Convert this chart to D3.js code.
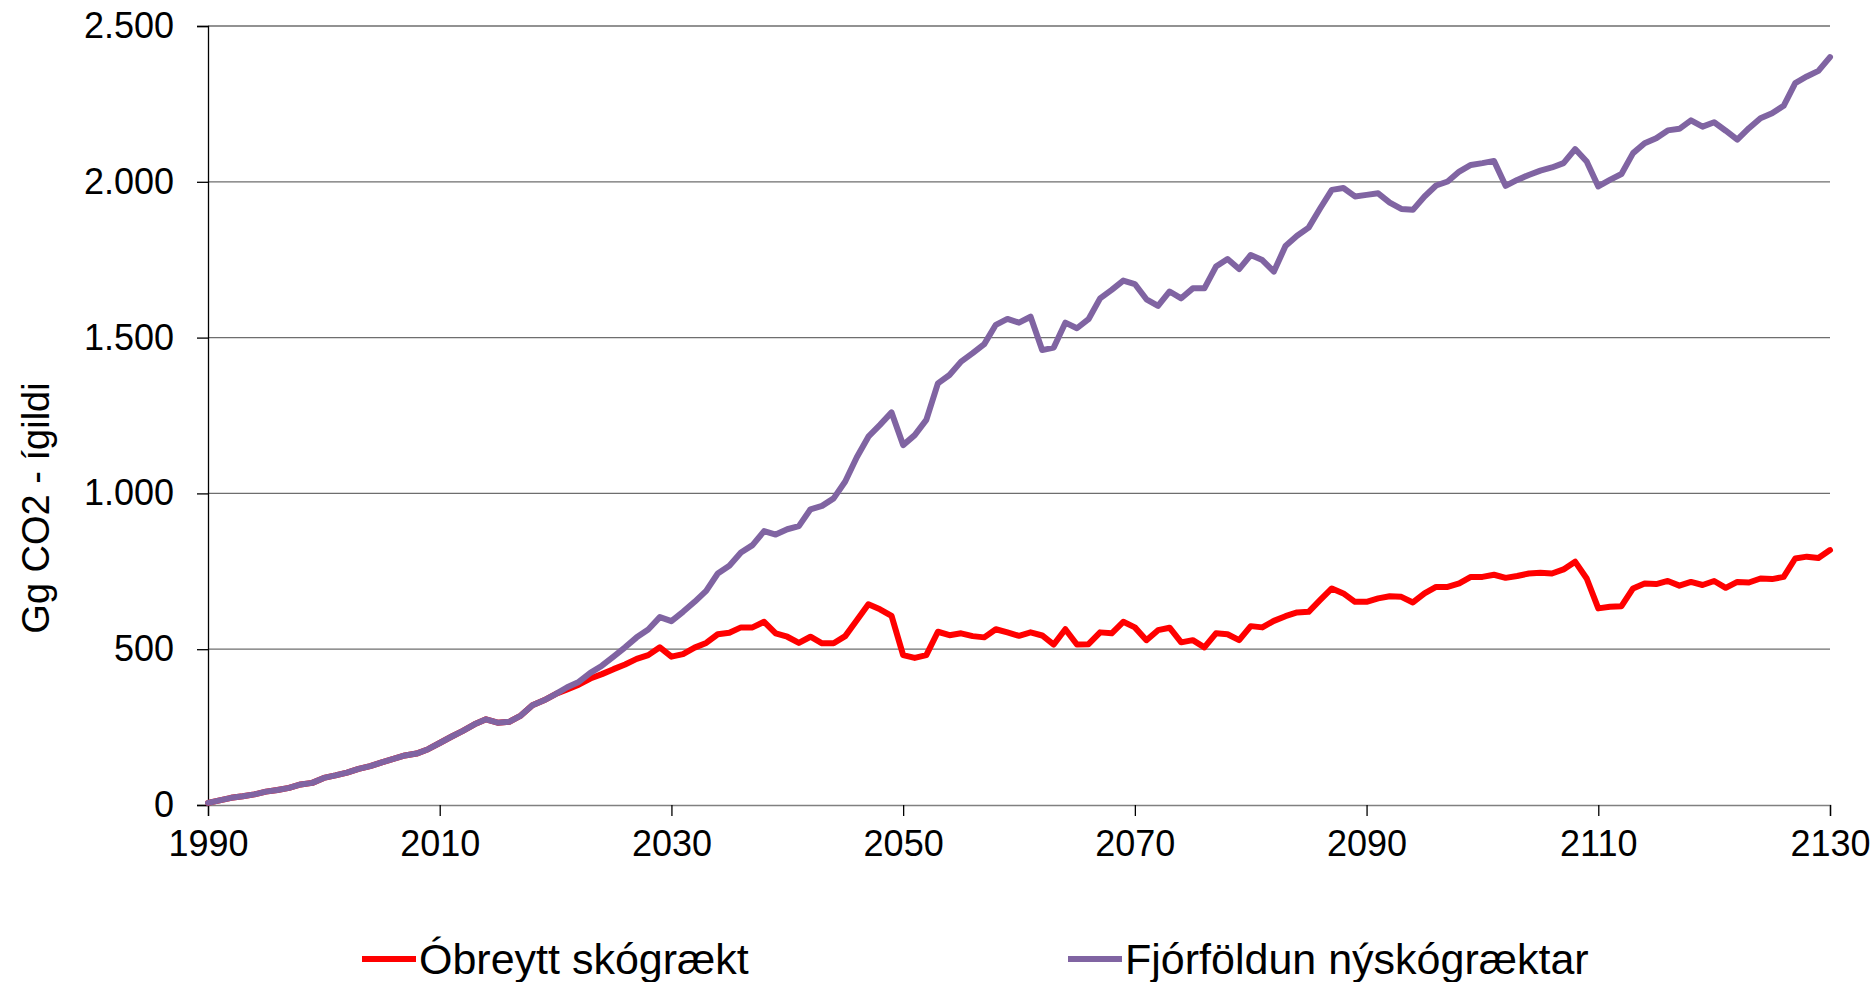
<!DOCTYPE html>
<html>
<head>
<meta charset="utf-8">
<script src="https://cdn.jsdelivr.net/npm/d3@7"></script>
<style>
  body { margin: 0; background: #fff; }
  svg { font-family: "Liberation Sans", Arial, sans-serif; }
</style>
</head>
<body>
<div id="chart"></div>
<script>
// years 1990..2130, one value per year
const firstYear = 1990, lastYear = 2130;

// both scenarios are the same up to 2020
const common = [7, 15, 23, 28, 34, 43, 48, 55, 66, 71, 87, 95, 104, 116, 125, 137, 148, 159, 165, 179,
  199, 219, 238, 259, 275, 264, 267, 287, 320, 336, 356];

const obreytt = common.concat([
  371, 386, 406, 420, 436, 451, 469, 481, 506, 476, 484, 505, 520, 548, 553, 570, 570, 588, 551, 540,
  520, 540, 519, 519, 542, 593, 644, 628, 607,
  481, 472, 481, 556, 545, 551, 542, 538, 564, 554, 543, 554, 544, 515, 564, 515, 516, 554, 551, 588,
  570, 529, 561, 569, 522, 529, 506, 551, 548, 529,
  574, 570, 591, 606, 618, 620, 658, 695, 679, 652, 652, 663, 670, 668, 650, 679, 700, 700, 711, 732,
  732, 739, 729, 735, 743, 745, 743, 756, 781,
  727, 631, 636, 638, 695, 711, 709, 719, 704, 716, 706, 719, 697, 716, 714, 727, 725, 732, 791, 797,
  793, 818]);

const fjorfoldun = common.concat([
  378, 395, 424, 447, 476, 506, 538, 563, 603, 590, 620, 652, 687, 743, 768, 810, 834, 879, 868, 885,
  895, 949, 960, 984, 1038, 1116, 1182, 1220, 1260,
  1155, 1187, 1236, 1353, 1380, 1423, 1450, 1479, 1541, 1560, 1548, 1567, 1460, 1468, 1548, 1530, 1559, 1626, 1653, 1683,
  1672, 1623, 1602, 1648, 1626, 1658, 1658, 1728, 1752, 1720,
  1765, 1749, 1712, 1794, 1827, 1853, 1915, 1974, 1980, 1953, 1958, 1963, 1933, 1913, 1910, 1953, 1988, 2001, 2033, 2054,
  2060, 2067, 1987, 2006, 2022, 2036, 2046, 2060, 2105,
  2065, 1985, 2006, 2025, 2092, 2124, 2140, 2165, 2170, 2197, 2177, 2191, 2164, 2135, 2172, 2204, 2220, 2244, 2317, 2338,
  2356, 2400]);

const seriesNames = ['Óbreytt skógrækt', 'Fjórföldun nýskógræktar'];
const seriesColors = ['#ff0000', '#8064a2'];
const xTicks = [1990, 2010, 2030, 2050, 2070, 2090, 2110, 2130];
const yTicks = [0, 500, 1000, 1500, 2000, 2500];
const yTitle = 'Gg CO2 - ígildi';

const width = 1875, height = 982,
  margin = {top: 26, right: 45, bottom: 177, left: 208};

const years = d3.range(firstYear, lastYear + 1);

const x = d3.scaleLinear()
  .domain([firstYear, lastYear])
  .range([margin.left, width - margin.right]);

const y = d3.scaleLinear()
  .domain([0, 2500])
  .range([height - margin.bottom, margin.top]);

const svg = d3.select('#chart').append('svg')
  .attr('width', width)
  .attr('height', height)
  .attr('viewBox', [0, 0, width, height]);

// gridlines
svg.append('g')
  .selectAll('line')
  .data(yTicks.filter(d => d > 0))
  .join('line')
  .attr('x1', margin.left)
  .attr('x2', width - margin.right)
  .attr('y1', d => y(d))
  .attr('y2', d => y(d))
  .attr('stroke', '#6e6e6e')
  .attr('stroke-width', 1.3);

// y axis
const yAxis = svg.append('g')
  .attr('transform', `translate(${margin.left},0)`)
  .call(d3.axisLeft(y).tickValues(yTicks).tickSize(11).tickPadding(23)
    .tickFormat(d => d3.format(',')(d).replace(',', '.')));
yAxis.select('.domain').attr('stroke', '#000').attr('stroke-width', 1.3);
yAxis.selectAll('.tick line').attr('stroke', '#000').attr('stroke-width', 1.3);
yAxis.selectAll('text').attr('font-size', 36).attr('fill', '#000')
  .attr('font-family', '"Liberation Sans", Arial, sans-serif');

// x axis
const xAxis = svg.append('g')
  .attr('transform', `translate(0,${height - margin.bottom})`)
  .call(d3.axisBottom(x).tickValues(xTicks).tickFormat(d3.format('d')).tickSize(11).tickPadding(14));
xAxis.select('.domain').attr('stroke', '#808080').attr('stroke-width', 1.6);
xAxis.selectAll('.tick line').attr('stroke', '#000').attr('stroke-width', 1.3);
xAxis.selectAll('text').attr('font-size', 36).attr('fill', '#000')
  .attr('font-family', '"Liberation Sans", Arial, sans-serif');

// axis title sits a bit below the middle of the plot, as in the original
svg.append('text')
  .attr('transform', 'translate(49,508) rotate(-90)')
  .attr('text-anchor', 'middle')
  .attr('font-size', 38)
  .text(yTitle);

// lines
const line = d3.line()
  .x((d, i) => x(years[i]))
  .y(d => y(d));

[obreytt, fjorfoldun].forEach((s, i) => {
  svg.append('path')
    .datum(s)
    .attr('fill', 'none')
    .attr('stroke', seriesColors[i])
    .attr('stroke-width', 6)
    .attr('stroke-linejoin', 'round')
    .attr('stroke-linecap', 'round')
    .attr('d', line);
});

// legend
const legendX = [362, 1068];
const legend = svg.append('g')
  .selectAll('g')
  .data(seriesNames)
  .join('g')
  .attr('transform', (d, i) => `translate(${legendX[i]},959)`);
legend.append('line')
  .attr('x1', 0).attr('x2', 54)
  .attr('stroke', (d, i) => seriesColors[i])
  .attr('stroke-width', 6);
legend.append('text')
  .attr('x', 57)
  .attr('y', 15)
  .attr('font-size', 43)
  .text(d => d);
</script>
</body>
</html>
